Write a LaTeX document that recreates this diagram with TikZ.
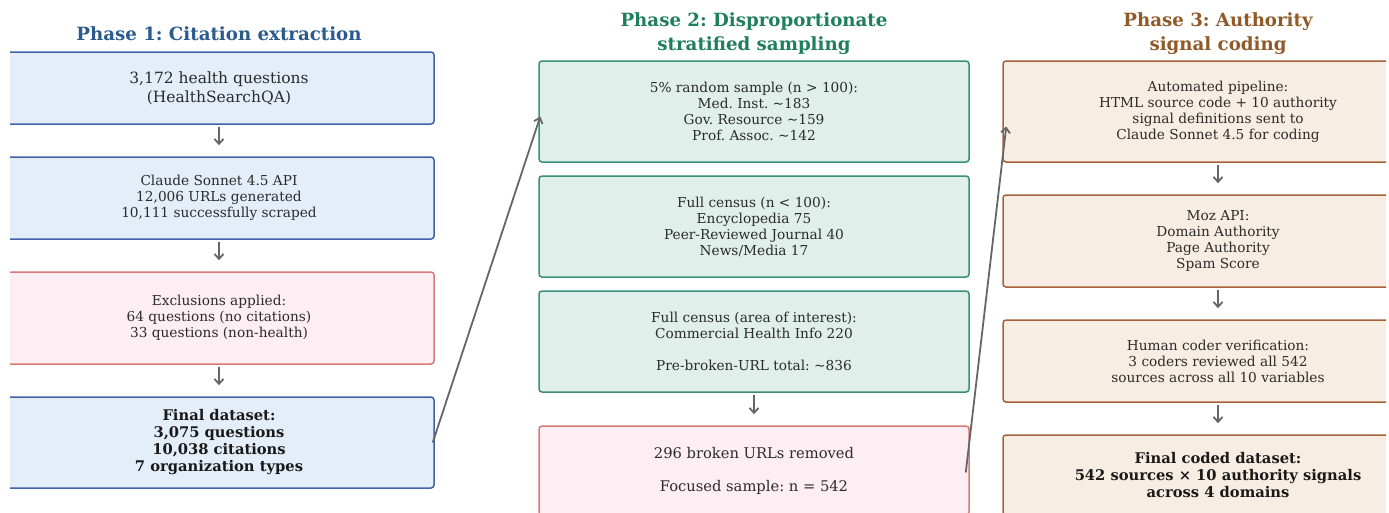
\documentclass[tikz,border=0pt]{standalone}
\usepackage{fontspec}
\setmainfont{DejaVu Serif}
\usetikzlibrary{arrows.meta}
\frenchspacing

\definecolor{ptitleA}{HTML}{2A5B8C}
\definecolor{ptitleB}{HTML}{1F7F5C}
\definecolor{ptitleC}{HTML}{8F5A28}
\definecolor{blufill}{HTML}{E4EEF9}
\definecolor{bluline}{HTML}{4262A8}
\definecolor{pinkfill}{HTML}{FDEEF3}
\definecolor{pinkline}{HTML}{D97A78}
\definecolor{grnfill}{HTML}{E0EFEA}
\definecolor{grnline}{HTML}{3A9077}
\definecolor{brnfill}{HTML}{F8EDE3}
\definecolor{brnline}{HTML}{A5623A}
\definecolor{txtgray}{HTML}{2B2B2B}
\definecolor{arrgray}{HTML}{666666}

\begin{document}
\begin{tikzpicture}[x=1pt,y=-1pt]
	\tikzstyle{title}=[align=center,font=\bfseries\fontsize{18.2}{24}\selectfont];
	\tikzstyle{box}=[draw,rounded corners=3pt,line width=1.5pt,minimum width=430pt,inner sep=0pt,align=center,text=txtgray,font=\fontsize{13.7}{16}\selectfont];
	\tikzstyle{bigtxt}=[font=\fontsize{15.5}{19}\selectfont];
	\tikzstyle{boldtxt}=[text=black!90,font=\bfseries\fontsize{14.7}{17}\selectfont];
	\tikzstyle{blubox}=[box,fill=blufill,draw=bluline];
	\tikzstyle{pinkbox}=[box,fill=pinkfill,draw=pinkline];
	\tikzstyle{grnbox}=[box,fill=grnfill,draw=grnline];
	\tikzstyle{brnbox}=[box,fill=brnfill,draw=brnline];
	\tikzstyle{flow}=[draw=arrgray,line width=1.8pt,-{Straight Barb[length=5pt,width=9pt]},shorten <=2pt,shorten >=11pt];
	\tikzstyle{jump}=[draw=arrgray,line width=1.8pt,-{Straight Barb[length=5pt,width=9pt]}];

	\useasboundingbox (0,0) rectangle (1389,512);
	\clip (10,0) rectangle (1386,512);

	% phase 1
	\path (219,34) node (head1) [title,text=ptitleA] {Phase 1: Citation extraction};
	\path (219,88)    node (questions) [blubox,minimum height=72pt,bigtxt] {3,172 health questions\\(HealthSearchQA)};
	\path (219,198)   node (scrape)    [blubox,minimum height=82pt] {Claude Sonnet 4.5 API\\12,006 URLs generated\\10,111 successfully scraped};
	\path (219,318)   node (exclude)   [pinkbox,minimum height=92pt] {Exclusions applied:\\64 questions (no citations)\\33 questions (non-health)};
	\path (219,442.5) node (dataset)   [blubox,minimum height=91pt,boldtxt] {Final dataset:\\3,075 questions\\10,038 citations\\7 organization types};
	\draw[flow] (questions) -- (scrape);
	\draw[flow] (scrape) -- (exclude);
	\draw[flow] (exclude) -- (dataset);

	% phase 2
	\path (754,34) node (head2) [title,text=ptitleB] {Phase 2: Disproportionate\\stratified sampling};
	\path (754,111.5) node (random)   [grnbox,minimum height=101pt] {5\% random sample (n > 100):\\Med. Inst. \textasciitilde183\\Gov. Resource \textasciitilde159\\Prof. Assoc. \textasciitilde142};
	\path (754,226.5) node (census)   [grnbox,minimum height=101pt] {Full census (n < 100):\\Encyclopedia 75\\Peer-Reviewed Journal 40\\News/Media 17};
	\path (754,341.5) node (interest) [grnbox,minimum height=101pt] {Full census (area of interest):\\Commercial Health Info 220\\[16pt]Pre-broken-URL total: \textasciitilde836};
	\path (754,470.5) node (broken)   [pinkbox,minimum height=89pt,font=\fontsize{14.7}{16.5}\selectfont] {296 broken URLs removed\\[16.5pt]Focused sample: n = 542};
	\draw[flow] (interest) -- (broken);

	% phase 3
	\path (1218,34) node (head3) [title,text=ptitleC] {Phase 3: Authority\\signal coding};
	\path (1218,111.5) node (pipeline) [brnbox,minimum height=101pt] {Automated pipeline:\\HTML source code + 10 authority\\signal definitions sent to\\Claude Sonnet 4.5 for coding};
	\path (1218,241)   node (moz)      [brnbox,minimum height=92pt] {Moz API:\\Domain Authority\\Page Authority\\Spam Score};
	\path (1218,361)   node (coders)   [brnbox,minimum height=82pt] {Human coder verification:\\3 coders reviewed all 542\\sources across all 10 variables};
	\path (1218,475)   node (coded)    [brnbox,minimum height=80pt,boldtxt] {Final coded dataset:\\542 sources × 10 authority signals\\across 4 domains};
	\draw[flow] (pipeline) -- (moz);
	\draw[flow] (moz) -- (coders);
	\draw[flow] (coders) -- (coded);

	% links between phases
	\draw[jump] ([xshift=-2pt]dataset.east) -- ([xshift=2pt,yshift=-5pt]random.west);
	\draw[jump] ([xshift=-4pt,yshift=-2pt]broken.east) -- ([xshift=4pt,yshift=-15pt]pipeline.west);
\end{tikzpicture}
\end{document}
